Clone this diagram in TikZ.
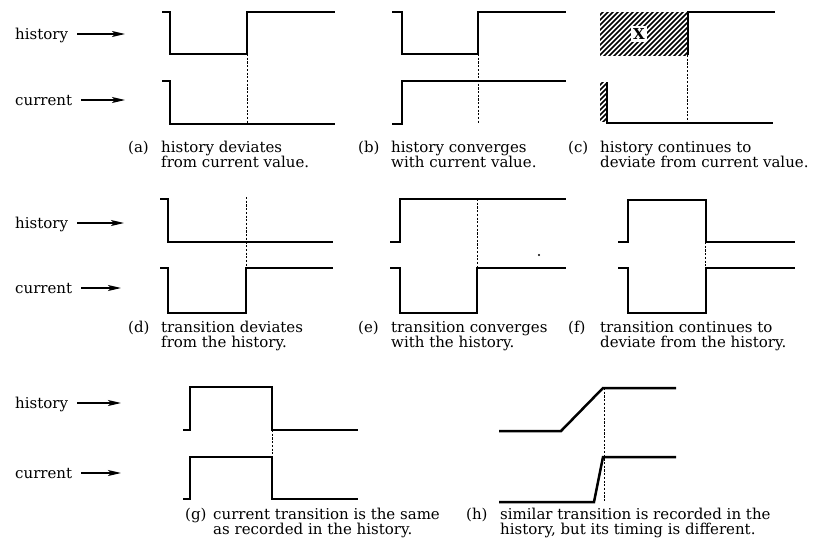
\documentclass[tikz,border=0pt]{standalone}
\usepackage{fontspec}
\setmainfont{DejaVu Serif}
\usetikzlibrary{arrows.meta}

% caption of one panel: letter, letter x, text x, baseline y, line 1, line 2
\newcommand\subcap[6]{%
  \node[captext] (#1l) at (#2,#4) {(#1)};
  \node[captext] (#1a) at (#3,#4) {#5};
  \node[captext] (#1b) at (#3,#4+15) {#6};
}
% row label "history"/"current" with its arrow
\newcommand\rowlabel[4]{%
  \node[lbl] (#1) at (15,#3+5) {#2};
  \coordinate (#1tip) at (#4,#3);
  \draw[arr] ([shift={(9,-5)}]#1.base east) -- (#1tip);
}

\begin{document}
\begin{tikzpicture}[x=1pt,y=-1pt,
  sig/.style={line width=2.5pt, line join=miter},
  guide/.style={line width=1pt, dash pattern=on 2.2pt off 1.5pt},
  txt/.style={font=\fontsize{15}{15}\selectfont, inner sep=0pt, anchor=base west},
  lbl/.style={txt},
  captext/.style={txt},
  arr/.style={line width=1.2pt, -{Stealth[length=13pt,width=6pt,inset=3pt]}},
  hatch/.style={line width=1.5pt}]
\useasboundingbox (0,0) rectangle (826,555);

% ---- row labels
\rowlabel{h1}{history}{34}{125}
\rowlabel{c1}{current}{100}{125}
\rowlabel{h2}{history}{223}{124}
\rowlabel{c2}{current}{288}{121}
\rowlabel{h3}{history}{403}{121}
\rowlabel{c3}{current}{473}{121}

% ---- (a)
\draw[sig] (162,12) -- (170,12) -- (170,54) -- (247,54) -- (247,12) -- (335,12);
\draw[sig] (162,81) -- (170,81) -- (170,124) -- (335,124);
\draw[guide] (247,54) -- (247,124);

% ---- (b)
\draw[sig] (392,12) -- (402,12) -- (402,54) -- (478,54) -- (478,12) -- (566,12);
\draw[sig] (392,124) -- (402,124) -- (402,81) -- (566,81);
\draw[guide] (478,54) -- (478,124);

% ---- (c): hatched regions mark the unknown part of the history
\begin{scope}
  \clip (600,12) rectangle (688,55);
  \foreach \k in {-45,-40,...,115} \draw[hatch] (580+\k,60) -- (640+\k,0);
\end{scope}
\begin{scope}
  \clip (600,82) rectangle (607,121);
  \foreach \k in {-35,-30,...,35} \draw[hatch] (580+\k,125) -- (640+\k,65);
\end{scope}
\node[fill=white, inner sep=2.5pt, font=\fontsize{15}{15}\selectfont\bfseries] (x) at (639,34) {X};
\draw[sig] (688,55) -- (688,12) -- (775,12);
\draw[sig] (607,82) -- (607,123) -- (773,123);
\draw[guide] (687,55) -- (687,123);

% ---- (d)
\draw[sig] (160,199) -- (168,199) -- (168,242) -- (333,242);
\draw[sig] (160,268) -- (168,268) -- (168,313) -- (246,313) -- (246,268) -- (333,268);
\draw[guide] (246,197) -- (246,268);

% ---- (e)
\draw[sig] (390,242) -- (400,242) -- (400,199) -- (566,199);
\draw[sig] (390,268) -- (400,268) -- (400,313) -- (477,313) -- (477,268) -- (566,268);
\draw[guide] (477,199) -- (477,268);
\fill (539,255) circle (1.2);

% ---- (f)
\draw[sig] (618,242) -- (628,242) -- (628,200) -- (706,200) -- (706,242) -- (795,242);
\draw[sig] (618,268) -- (628,268) -- (628,313) -- (706,313) -- (706,268) -- (795,268);
\draw[guide] (705,242) -- (705,268);

% ---- (g)
\draw[sig] (183,430) -- (190,430) -- (190,387) -- (272,387) -- (272,430) -- (358,430);
\draw[sig] (183,499) -- (190,499) -- (190,457) -- (272,457) -- (272,499) -- (358,499);
\draw[guide] (272,430) -- (272,457);

% ---- (h)
\draw[sig] (499,431) -- (561,431) -- (603,388) -- (676,388);
\draw[sig] (499,502) -- (594,502) -- (603,457) -- (676,457);
\draw[guide] (604,388) -- (604,502);

% ---- captions
\subcap{a}{128}{161}{152}{history deviates}{from current value.}
\subcap{b}{358}{391}{152}{history converges}{with current value.}
\subcap{c}{568}{600}{152}{history continues to}{deviate from current value.}
\subcap{d}{128}{161}{332}{transition deviates}{from the history.}
\subcap{e}{358}{391}{332}{transition converges}{with the history.}
\subcap{f}{568}{600}{332}{transition continues to}{deviate from the history.}
\subcap{g}{185}{213}{519}{current transition is the same}{as recorded in the history.}
\subcap{h}{466}{500}{519}{similar transition is recorded in the}{history, but its timing is different.}
\end{tikzpicture}
\end{document}
